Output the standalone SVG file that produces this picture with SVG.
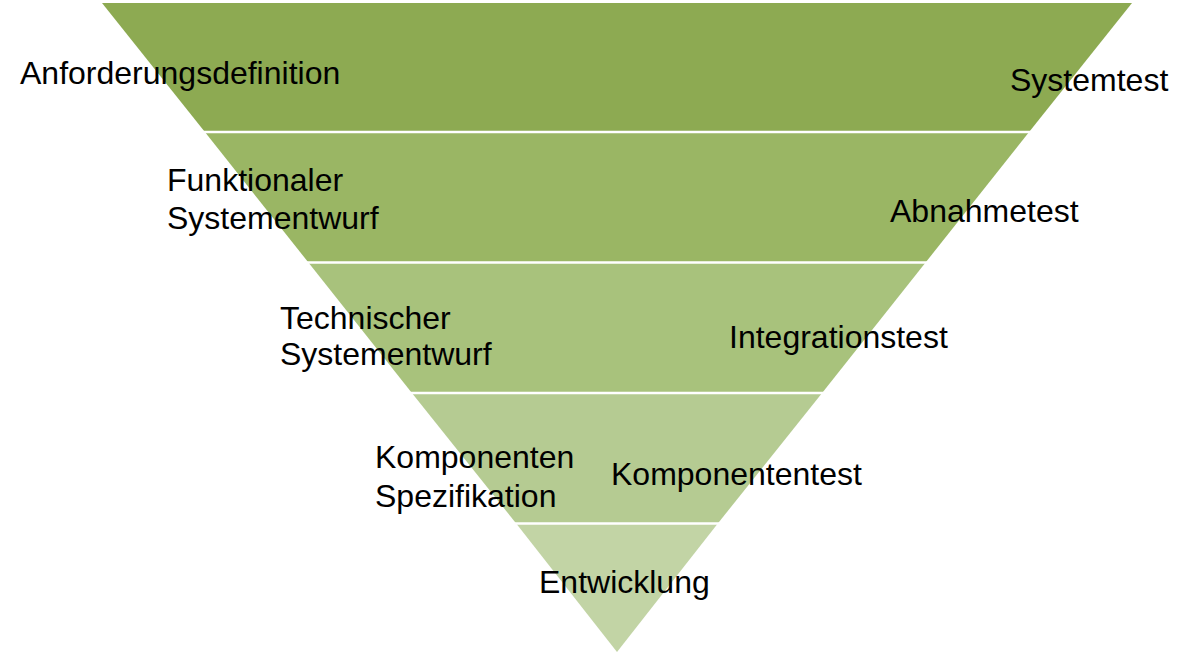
<svg xmlns="http://www.w3.org/2000/svg" width="1199" height="657" viewBox="0 0 1199 657">
<style>
text{font-family:"Liberation Sans",Arial,sans-serif;font-size:32px;fill:#000}
.sep{stroke:#fff;stroke-width:2.6}
</style>
<rect width="1199" height="657" fill="#fff"/>
<g id="pyramid">
<polygon id="band1" points="102,3 1132,3 1029.1,132 204.9,132" fill="#8daa52"/>
<polygon id="band2" points="204.9,132 1029.1,132 925.6,262.5 308.4,262.5" fill="#9ab664"/>
<polygon id="band3" points="308.4,262.5 925.6,262.5 822.1,393 411.9,393" fill="#a8c27c"/>
<polygon id="band4" points="411.9,393 822.1,393 717.8,523.5 516.2,523.5" fill="#b5cb92"/>
<polygon id="band5" points="516.2,523.5 717.8,523.5 617,652" fill="#c2d4a5"/>
</g>
<g id="separators">
<line class="sep" x1="150" y1="132" x2="1080" y2="132"/>
<line class="sep" x1="250" y1="262.5" x2="980" y2="262.5"/>
<line class="sep" x1="350" y1="393" x2="880" y2="393"/>
<line class="sep" x1="450" y1="523.5" x2="780" y2="523.5"/>
</g>
<g id="labels">
<text x="20" y="84">Anforderungsdefinition</text>
<text x="1010" y="91">Systemtest</text>
<text x="167" y="191">Funktionaler</text>
<text x="167" y="229">Systementwurf</text>
<text x="890" y="222">Abnahmetest</text>
<text x="280" y="329">Technischer</text>
<text x="280" y="365">Systementwurf</text>
<text x="729" y="348">Integrationstest</text>
<text x="375" y="468">Komponenten</text>
<text x="375" y="507">Spezifikation</text>
<text x="611" y="485">Komponententest</text>
<text x="539" y="593">Entwicklung</text>
</g>
</svg>
